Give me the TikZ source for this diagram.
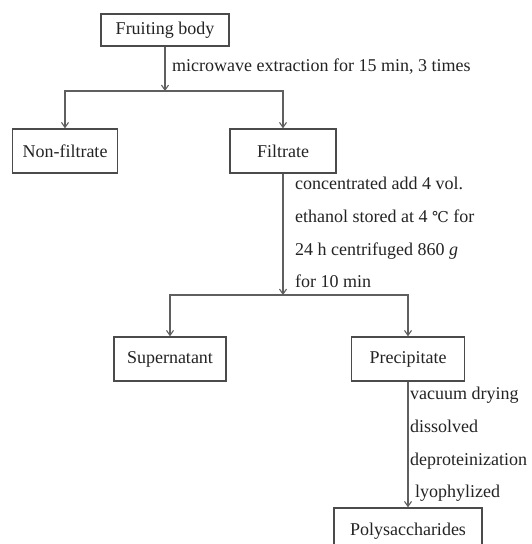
\documentclass[tikz,border=0pt]{standalone}
\usepackage{fontspec}
\setmainfont{Liberation Serif}
\newfontfamily\degfont{DejaVu Serif}
\usetikzlibrary{arrows.meta, positioning}
\definecolor{boxline}{RGB}{75,75,75}
\definecolor{flowline}{RGB}{95,95,95}
\definecolor{textcol}{RGB}{35,35,35}

\begin{document}
\begin{tikzpicture}[x=1pt, y=-1pt,
    box/.style={draw=boxline, line width=1.3pt, minimum height=44pt, inner sep=0pt, font=\fontsize{18}{20}\selectfont, text=textcol},
    arrow/.style={-{Straight Barb[length=5pt, width=7pt]}, flowline, line width=1.1pt},
    note/.style={anchor=north west, align=left, inner sep=0pt, font=\fontsize{18}{32.7}\selectfont, text=textcol},
]
    \useasboundingbox (0,0) rectangle (531,544);
    \clip (0,0) rectangle (531,544);

    \node[box, minimum width=128pt, minimum height=32pt] (fruit) at (165,30) {Fruiting body};
    \node[box, minimum width=105pt] (nonfil) at (65,151) {Non-filtrate};
    \node[box, minimum width=106pt] (filt) at (283,151) {Filtrate};
    \node[box, minimum width=112pt] (super) at (170,359) {Supernatant};
    \node[box, minimum width=113pt] (precip) at (408,359) {Precipitate};
    \node[box, minimum width=148pt, minimum height=46pt] (poly) at (408,531) {Polysaccharides};

    \coordinate (split1) at (fruit.south |- 0,91);
    \coordinate (split2) at (filt.south |- 0,295);

    \draw[arrow] (fruit) -- (split1);
    \draw[arrow] (split1) -| (nonfil.north);
    \draw[arrow] (split1) -| (filt.north);
    \draw[arrow] (filt) -- (split2);
    \draw[arrow] (split2) -| (super.north);
    \draw[arrow] (split2) -| (precip.north);
    \draw[arrow] (precip) -- (poly);

    \node[note, anchor=base west] (micro) at (172,71) {microwave extraction for 15 min, 3 times};
    \node[note] (ethanol) at (295,177) {concentrated add 4 vol.\\ethanol stored at 4 {\degfont\fontsize{15}{15}\selectfont ℃} for\\24 h centrifuged 860 \textit{g}\\for 10 min};
    \node[note] (drying) at (410,387) {vacuum drying\\dissolved\\deproteinization\\\hspace{5pt}lyophylized};
\end{tikzpicture}
\end{document}
